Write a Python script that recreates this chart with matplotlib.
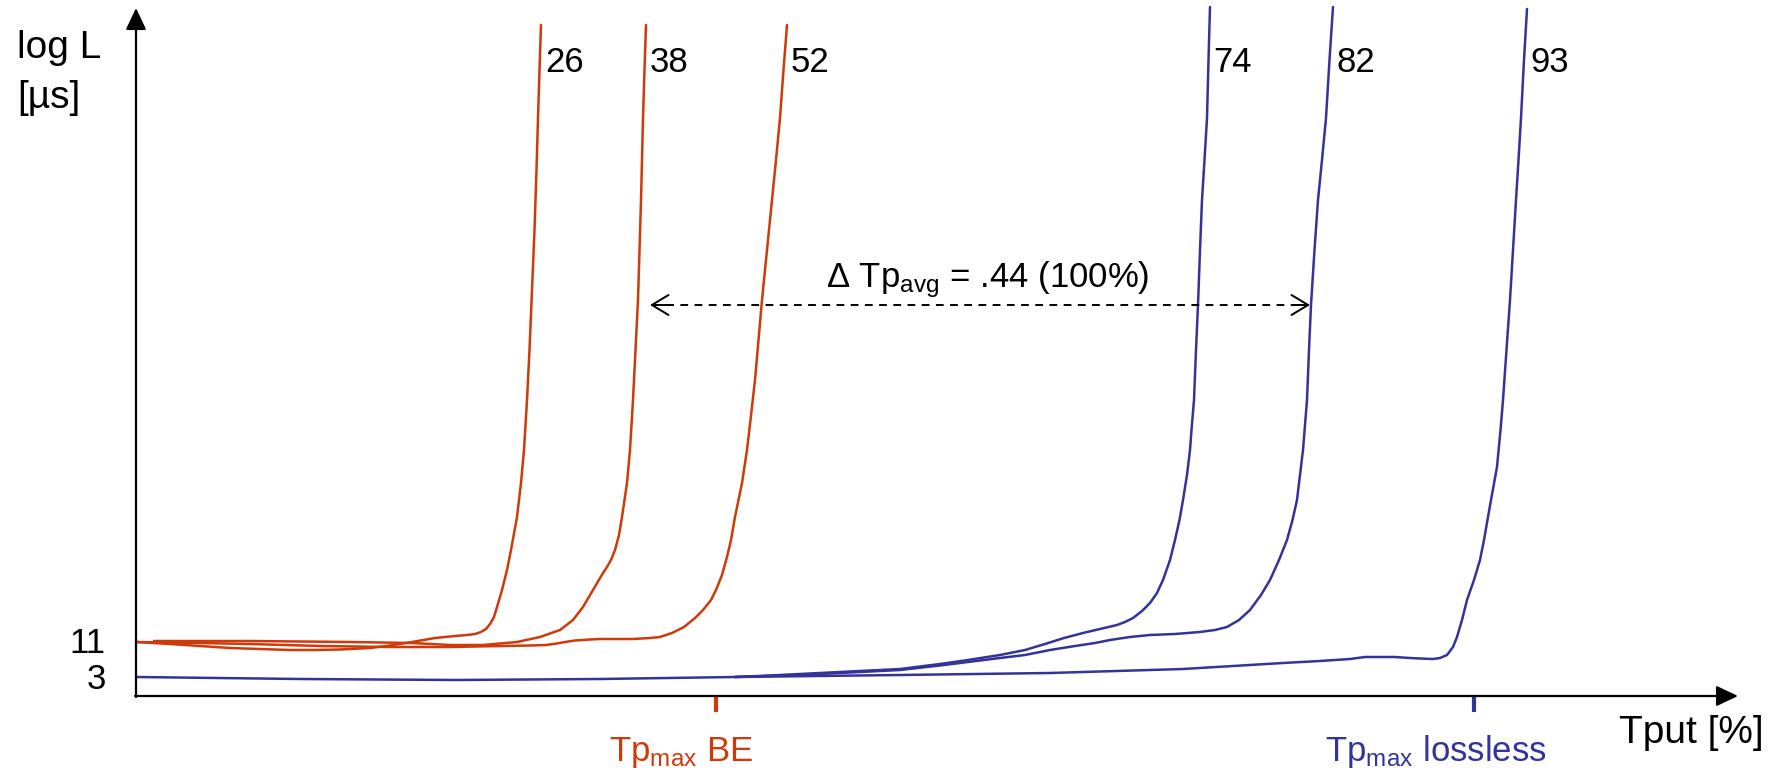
import matplotlib
matplotlib.use("Agg")
import matplotlib.pyplot as plt

plt.rcParams['font.family'] = ['Liberation Sans', 'DejaVu Sans']
plt.rcParams['mathtext.fontset'] = 'custom'
plt.rcParams['mathtext.rm'] = 'Liberation Sans'
plt.rcParams['mathtext.it'] = 'Liberation Sans:italic'

RED = '#D03A0A'
BLUE = '#33339A'

# curves (x = throughput, y = latency, image units, y grows downward)
x_26 = [136, 170, 200, 230, 260, 290, 314, 340, 370, 390, 412, 435, 455, 467, 475, 481, 486, 490, 494,
        497, 502, 507, 511, 517, 521, 524, 527, 529.5, 532, 534.5, 536.5, 538, 539.5, 541]
y_26 = [642, 644, 646, 648, 649, 650, 650, 649.5, 648, 645.5, 642, 638, 636, 635, 634, 632, 629, 624, 617,
        607, 590, 570, 550, 517, 483, 450, 400, 350, 290, 230, 170, 118, 70, 25]

x_38 = [154, 250, 350, 412, 450, 483, 517, 540, 560, 573, 583, 593, 603, 607, 611, 615, 619, 622, 627,
        630, 633, 635.5, 638, 639.5, 641, 642, 643, 644.5, 646]
y_38 = [641, 641, 642, 643, 645, 645, 642, 637, 630, 620, 607, 590, 573, 567, 560, 550, 535, 517, 483,
        450, 400, 350, 300, 250, 200, 160, 118, 70, 25]

x_52 = [136, 200, 250, 320, 390, 450, 500, 530, 546, 557, 565, 575, 590, 600, 633, 650, 660, 672, 684,
        695, 703, 711, 716, 722, 727, 731, 735, 742, 747, 750.5, 755, 758.5, 762, 767, 772, 776, 780, 783.5, 787]
y_52 = [642, 643, 644, 646, 647, 647, 646, 645.5, 645, 643.5, 642, 640.5, 639.5, 639, 639, 638, 637, 633, 627,
        618, 610, 600, 590, 575, 557, 540, 517, 483, 450, 420, 380, 340, 300, 250, 200, 160, 118, 70, 25]

x_74 = [735, 770, 800, 850, 900, 940, 968, 1000, 1025, 1045, 1064, 1083, 1100, 1117, 1125, 1133, 1142,
        1150, 1157, 1163, 1170, 1175, 1179.5, 1183, 1187, 1190, 1191.5, 1194, 1196, 1198, 1200, 1202,
        1204.5, 1207, 1208.5, 1210]
y_74 = [677, 675.5, 674, 671.5, 669, 664, 660, 655, 650, 644, 638, 633, 629, 625, 622, 618, 611,
        603, 593, 580, 560, 540, 520, 500, 475, 450, 430, 400, 350, 305, 250, 200,
        160, 118, 60, 7]

x_82 = [735, 800, 850, 900, 940, 968, 1000, 1025, 1050, 1075, 1095, 1110, 1130, 1150, 1175, 1200, 1215,
        1227, 1239, 1250, 1261, 1270, 1279, 1287, 1292.5, 1297, 1303, 1307, 1309, 1311, 1314.5, 1318,
        1322, 1326, 1329.5, 1333]
y_82 = [677, 675, 672.5, 670, 665.5, 662, 658, 655, 650, 646, 643, 640, 637, 635, 634, 632, 630,
        627, 620, 610, 595, 580, 560, 540, 520, 500, 450, 400, 350, 305, 250, 200,
        160, 118, 60, 7]

x_93 = [136, 300, 456, 600, 735, 900, 1050, 1183, 1283, 1320, 1350, 1365, 1383, 1395, 1410, 1420, 1433,
        1440, 1447, 1453, 1457, 1462, 1467, 1474, 1480, 1484, 1488, 1491, 1497, 1500.5, 1503, 1506.5,
        1510, 1513, 1516, 1518.5, 1521, 1524, 1527]
y_93 = [677, 679, 680, 679, 677, 675, 673, 669, 663, 661, 659, 657, 657, 657, 658, 658.5, 659,
        658, 655, 647, 637, 620, 600, 580, 560, 540, 517, 500, 467, 430, 400, 350,
        300, 250, 200, 160, 118, 60, 9]

curve_labels = ['26', '38', '52', '74', '82', '93']
label_x = [545, 650, 791, 1213, 1337, 1530]

fig = plt.figure(figsize=(17.87, 7.70), dpi=100)
ax = fig.add_axes([0, 0, 1, 1])
ax.set_xlim(0, 1787)
ax.set_ylim(770, 0)
ax.axis('off')

for xs, ys in [(x_26, y_26), (x_38, y_38), (x_52, y_52)]:
    ax.plot(xs, ys, color=RED, lw=1.8, solid_joinstyle='round', solid_capstyle='round')
for xs, ys in [(x_93, y_93), (x_74, y_74), (x_82, y_82)]:
    ax.plot(xs, ys, color=BLUE, lw=1.8, solid_joinstyle='round', solid_capstyle='round')

for lab, lx in zip(curve_labels, label_x):
    ax.text(lx, 72, lab, fontsize=25, ha='left', va='baseline')

# axes with arrow heads
ax.annotate('', xy=(136, 8), xytext=(136, 697),
            arrowprops=dict(arrowstyle='-|>,head_length=0.55,head_width=0.26', lw=1.6,
                            color='black', mutation_scale=24, shrinkA=0, shrinkB=0))
ax.annotate('', xy=(1738, 696), xytext=(135, 696),
            arrowprops=dict(arrowstyle='-|>,head_length=0.55,head_width=0.26', lw=1.6,
                            color='black', mutation_scale=24, shrinkA=0, shrinkB=0))

ax.text(17, 58, 'log L', fontsize=28, ha='left', va='baseline')
ax.text(17, 108, '[µs]', fontsize=28, ha='left', va='baseline')
ax.text(1619, 743, 'Tput [%]', fontsize=28, ha='left', va='baseline')

ax.text(106, 643.5, '11', fontsize=25, ha='right', va='center')
ax.text(106, 679.5, '3', fontsize=25, ha='right', va='center')

# max throughput markers
ax.plot([716, 716], [697, 712], color=RED, lw=3, solid_capstyle='butt')
ax.plot([1474, 1474], [697, 712], color=BLUE, lw=3, solid_capstyle='butt')
ax.text(681, 761, r'Tp$_\mathrm{max}$ BE', fontsize=25, color=RED, ha='center', va='baseline')
ax.text(1436, 761, r'Tp$_\mathrm{max}$ lossless', fontsize=25, color=BLUE, ha='center', va='baseline')

# delta arrow
ax.plot([652, 1308], [305, 305], color='black', lw=1.4, linestyle=(0, (4, 3.3)))
ax.annotate('', xy=(650, 305), xytext=(668, 305),
            arrowprops=dict(arrowstyle='->,head_length=0.5,head_width=0.3', lw=1.4,
                            color='black', mutation_scale=24, shrinkA=0, shrinkB=0))
ax.annotate('', xy=(1310, 305), xytext=(1292, 305),
            arrowprops=dict(arrowstyle='->,head_length=0.5,head_width=0.3', lw=1.4,
                            color='black', mutation_scale=24, shrinkA=0, shrinkB=0))
ax.text(988, 287, r'Δ Tp$_\mathrm{avg}$ = .44 (100%)', fontsize=25, ha='center', va='baseline')

fig.savefig('out.png', dpi=100)
